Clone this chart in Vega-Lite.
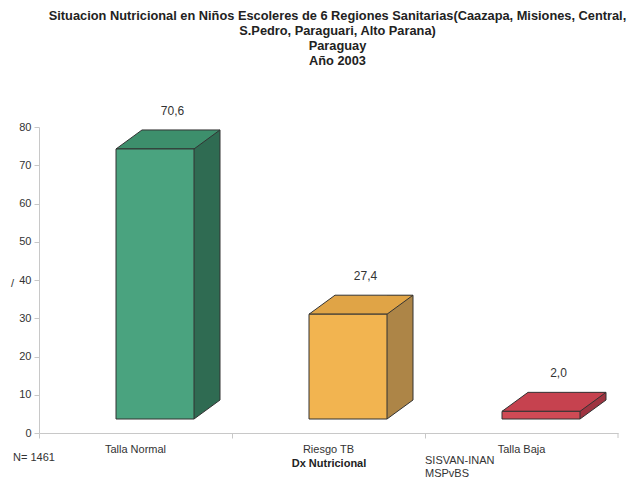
{
  "$schema": "https://vega.github.io/schema/vega-lite/v6.json",
  "width": 579,
  "height": 306,
  "autosize": {"type": "none"},
  "padding": {"left": 39, "top": 127, "right": 22, "bottom": 49},
  "background": "white",
  "config": {
    "font": "Liberation Sans",
    "view": {"stroke": null},
    "axis": {"labelFont": "Liberation Sans", "titleFont": "Liberation Sans"},
    "axisY": {
      "tickCount": 8,
      "labelOverlap": false,
      "titleAngle": 0,
      "titleX": -27,
      "titleY": 161,
      "titleFontSize": 11,
      "titleFontWeight": "normal",
      "titleColor": "#333",
      "labelFontSize": 11,
      "labelColor": "#333",
      "labelPadding": 3,
      "tickSize": 5,
      "tickColor": "#c8c8c8",
      "domainColor": "#c8c8c8",
      "grid": false
    }
  },
  "title": {
    "text": ["Situacion Nutricional en Niños Escoleres de 6 Regiones Sanitarias(Caazapa, Misiones, Central,", "S.Pedro, Paraguari, Alto Parana)", "Paraguay", "Año 2003"],
    "fontSize": 12.8,
    "fontWeight": "bold",
    "font": "Liberation Sans",
    "color": "#222",
    "lineHeight": 15,
    "anchor": "middle",
    "dx": 9,
    "offset": 37
  },
  "data": {
    "values": [
      {"cat": "Talla Normal", "value": 70.6, "label": "70,6"},
      {"cat": "Riesgo TB", "value": 27.4, "label": "27,4"},
      {"cat": "Talla Baja", "value": 2.0, "label": "2,0"}
    ]
  },
  "encoding": {
    "x": {
      "field": "cat",
      "type": "nominal",
      "sort": null,
      "scale": {"paddingInner": 0, "paddingOuter": 0},
      "axis": {
        "title": "Dx Nutricional",
        "titleFontSize": 11,
        "titleFontWeight": "bold",
        "titleColor": "#222",
        "titleBaseline": "middle",
        "titleY": 30,
        "labelAngle": 0,
        "labelFontSize": 11,
        "labelColor": "#333",
        "labelPadding": 5,
        "bandPosition": 0,
        "labelOffset": 0,
        "tickSize": 5,
        "tickColor": "#c8c8c8",
        "domainColor": "#c8c8c8",
        "grid": false
      }
    }
  },
  "layer": [
    {
      "mark": {"type": "bar", "width": 26, "xOffset": 71.5, "yOffset": -33, "y2Offset": -33},
      "encoding": {
        "y": {
          "field": "value",
          "type": "quantitative",
          "scale": {"domain": [0, 80], "nice": false},
          "axis": {"title": "/"}
        },
        "y2": {"datum": 0},
        "fill": {"field": "cat", "type": "nominal", "legend": null, "scale": {"domain": ["Talla Normal", "Riesgo TB", "Talla Baja"], "range": ["#2f6b52", "#ad8547", "#9e3441"]}}
      }
    },
    {
      "mark": {"type": "point", "shape": "M 0 0 L 0 -19 L 26 -19 Z", "size": 4, "filled": true, "opacity": 1, "strokeWidth": 0, "xOffset": 58.5, "yOffset": -14},
      "encoding": {
        "y": {"datum": 0, "type": "quantitative"},
        "fill": {"field": "cat", "type": "nominal", "legend": null, "scale": {"domain": ["Talla Normal", "Riesgo TB", "Talla Baja"], "range": ["#2f6b52", "#ad8547", "#9e3441"]}}
      }
    },
    {
      "mark": {"type": "rule", "color": "#333", "strokeWidth": 1, "xOffset": 84.5, "yOffset": -33, "y2Offset": -33},
      "encoding": {
        "y": {"field": "value", "type": "quantitative"},
        "y2": {"datum": 0}
      }
    },
    {
      "mark": {"type": "point", "shape": "M 0 0 L 26 -19", "size": 4, "filled": false, "opacity": 1, "color": "#333", "strokeWidth": 1, "xOffset": 58.5, "yOffset": -14},
      "encoding": {
        "y": {"datum": 0, "type": "quantitative"}
      }
    },
    {
      "mark": {"type": "point", "shape": "M -39 0 L 39 0 L 65 -19 L -13 -19 Z", "size": 4, "filled": true, "opacity": 1, "stroke": "#333", "strokeWidth": 1, "xOffset": 19.5, "yOffset": -14},
      "encoding": {
        "y": {"field": "value", "type": "quantitative"},
        "fill": {"field": "cat", "type": "nominal", "legend": null, "scale": {"domain": ["Talla Normal", "Riesgo TB", "Talla Baja"], "range": ["#3d8f6c", "#e0a446", "#c6424f"]}}
      }
    },
    {
      "mark": {"type": "bar", "width": 78, "xOffset": 19.5, "yOffset": -14, "y2Offset": -14, "stroke": "#333", "strokeWidth": 1},
      "encoding": {
        "y": {"field": "value", "type": "quantitative"},
        "y2": {"datum": 0},
        "fill": {"field": "cat", "type": "nominal", "legend": null, "scale": {"domain": ["Talla Normal", "Riesgo TB", "Talla Baja"], "range": ["#4aa37f", "#f2b450", "#d04a55"]}}
      }
    },
    {
      "mark": {"type": "text", "fontSize": 12, "color": "#333", "dx": 37, "dy": -52, "baseline": "middle"},
      "encoding": {
        "y": {"field": "value", "type": "quantitative"},
        "text": {"field": "label"}
      }
    },
    {
      "data": {"values": [{"t": "N= 1461"}]},
      "mark": {"type": "text", "fontSize": 11, "color": "#333", "align": "left", "baseline": "middle", "dx": -26, "dy": 25},
      "encoding": {
        "x": {"datum": "Talla Normal", "bandPosition": 0},
        "y": {"datum": 0, "type": "quantitative"},
        "text": {"field": "t"}
      }
    },
    {
      "data": {"values": [{"t": ["SISVAN-INAN", "MSPvBS"]}]},
      "mark": {"type": "text", "fontSize": 11, "color": "#333", "align": "left", "baseline": "top", "lineHeight": 13.3, "dx": 0, "dy": 22},
      "encoding": {
        "x": {"datum": "Talla Baja", "bandPosition": 0},
        "y": {"datum": 0, "type": "quantitative"},
        "text": {"field": "t"}
      }
    },
    {
      "data": {"values": [{"t": "end"}]},
      "mark": {"type": "rule", "color": "#c8c8c8", "y2Offset": 5},
      "encoding": {
        "x": {"datum": "Talla Baja", "bandPosition": 1},
        "y": {"datum": 0, "type": "quantitative"},
        "y2": {"datum": 0}
      }
    }
  ],
  "resolve": {"scale": {"fill": "independent"}}
}
